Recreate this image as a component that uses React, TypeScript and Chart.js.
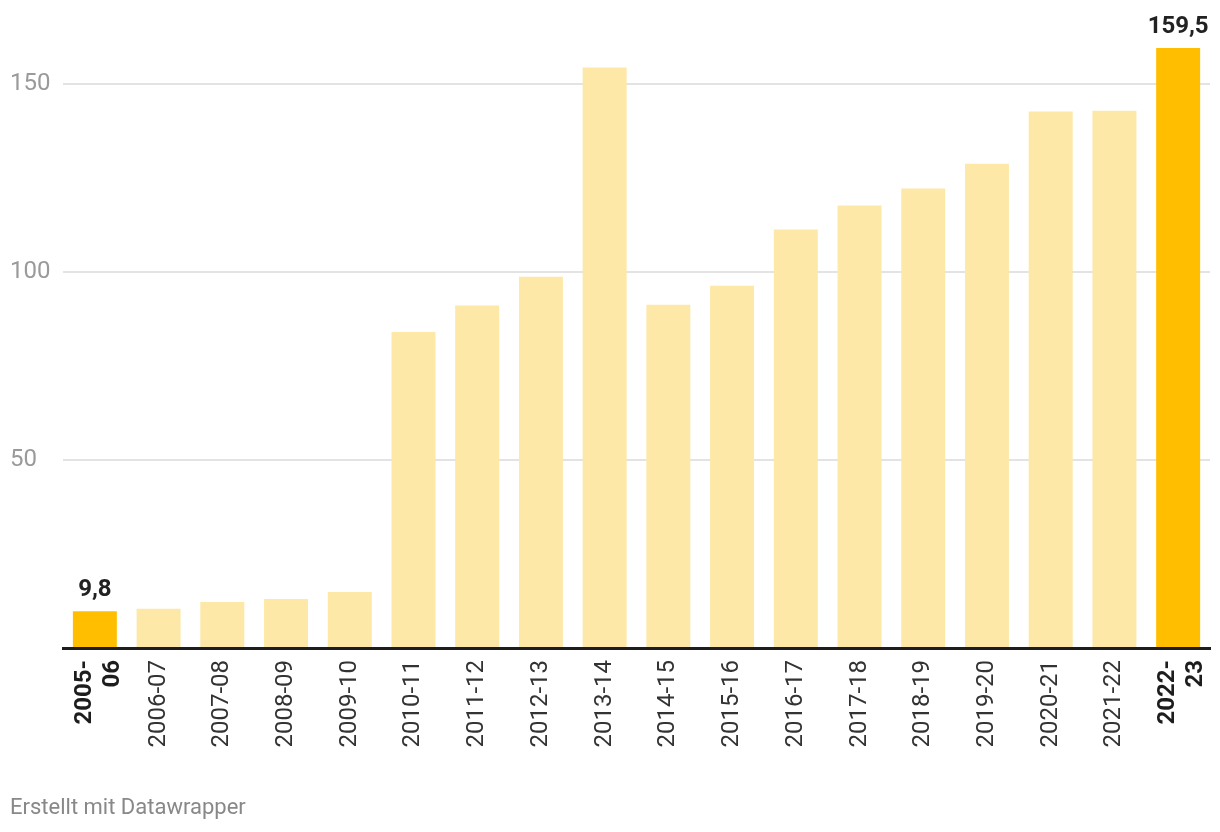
import React, { useEffect, useRef } from "react";
import { Chart, registerables } from "chart.js";

Chart.register(...registerables);

const categories: (string | string[])[] = [
  ["2005-", "06"], "2006-07", "2007-08", "2008-09", "2009-10", "2010-11", "2011-12", "2012-13",
  "2013-14", "2014-15", "2015-16", "2016-17", "2017-18", "2018-19", "2019-20", "2020-21",
  "2021-22", ["2022-", "23"],
];
const values: number[] = [
  9.8, 10.4, 12.2, 13.0, 14.9, 84.0, 91.0, 98.7, 154.3, 91.2, 96.3, 111.2, 117.6, 122.1,
  128.7, 142.6, 142.8, 159.5,
];
const highlighted: number[] = [0, 17];
const yTicks: number[] = [0, 50, 100, 150];
const footerText = "Erstellt mit Datawrapper";

const HIGHLIGHT = "#FFBF00";
const LIGHT = "#FDE8A7";

export default function App() {
  const ref = useRef<HTMLCanvasElement>(null);
  useEffect(() => {
    if (!ref.current) return;
    Chart.defaults.font.family = "Roboto";
    const labelPlugin = {
      id: "valueLabels",
      beforeDraw(chart: any) {
        const s = chart.scales.x;
        const items = s.getLabelItems(chart.chartArea);
        items.forEach((it: any) => {
          if (Array.isArray(it.label) && !it._centered) {
            it.options.translation = [it.options.translation[0] - 10, it.options.translation[1]];
            it._centered = true;
          }
        });
      },
      afterDatasetsDraw(chart: any) {
        const ctx = chart.ctx;
        const meta = chart.getDatasetMeta(0);
        ctx.save();
        ctx.font = "bold 24px Roboto";
        ctx.fillStyle = "#222";
        ctx.textAlign = "center";
        ctx.textBaseline = "alphabetic";
        highlighted.forEach((i) => {
          const bar = meta.data[i];
          ctx.fillText(values[i].toLocaleString("de-DE"), bar.x, bar.y - 15);
        });
        ctx.restore();
      },
    };
    const chart = new Chart(ref.current, {
      type: "bar",
      data: {
        labels: categories,
        datasets: [
          {
            data: values,
            backgroundColor: values.map((_, i) => (highlighted.includes(i) ? HIGHLIGHT : LIGHT)),
            barPercentage: 0.69,
            categoryPercentage: 1,
          },
        ],
      },
      options: {
        animation: false,
        responsive: false,
        maintainAspectRatio: false,
        layout: { padding: { top: 46, left: 10, right: 10, bottom: 0 } },
        plugins: { legend: { display: false }, tooltip: { enabled: false } },
        scales: {
          x: {
            grid: { display: false, drawTicks: false },
            border: { display: true, color: "#1d1d1d", width: 3 },
            ticks: {
              autoSkip: false,
              maxRotation: 90,
              minRotation: 90,
              padding: 12,
              color: (c: any) => (highlighted.includes(c.index) ? "#1d1d1d" : "#333"),
              font: (c: any) => ({
                size: 24,
                family: "Roboto",
                weight: highlighted.includes(c.index) ? "bold" : "normal",
                lineHeight: 1.17,
              }),
            },
            afterFit: (s: any) => {
              s.height = 184;
              s.paddingLeft = 0;
              s.paddingRight = 0;
            },
          },
          y: {
            min: 0,
            max: 160,
            border: { display: false },
            grid: {
              color: (c: any) => (c.tick && c.tick.value === 0 ? "rgba(0,0,0,0)" : "#e3e3e3"),
              lineWidth: 2,
              drawTicks: false,
            },
            ticks: {
              color: "#9a9a9a",
              font: { size: 24, family: "Roboto" },
              crossAlign: "far",
              padding: 0,
              callback: (v: any) => (v === 0 ? "" : String(v)),
            },
            afterBuildTicks: (s: any) => {
              s.ticks = yTicks.map((v) => ({ value: v }));
            },
            afterFit: (s: any) => {
              s.width = 53;
              s.paddingTop = 0;
              s.paddingBottom = 0;
            },
          },
        },
      },
      plugins: [labelPlugin],
    });
    return () => chart.destroy();
  }, []);
  return (
    <div style={{ position: "absolute", left: 0, top: 0, width: 1220, height: 832, background: "#fff" }}>
      <canvas ref={ref} width={1220} height={832} style={{ position: "absolute", left: 0, top: 0 }} />
      <div
        style={{
          position: "absolute",
          left: 10,
          top: 794,
          fontFamily: "Roboto",
          fontSize: 22,
          color: "#888",
          lineHeight: "26px",
        }}
      >
        {footerText}
      </div>
    </div>
  );
}
